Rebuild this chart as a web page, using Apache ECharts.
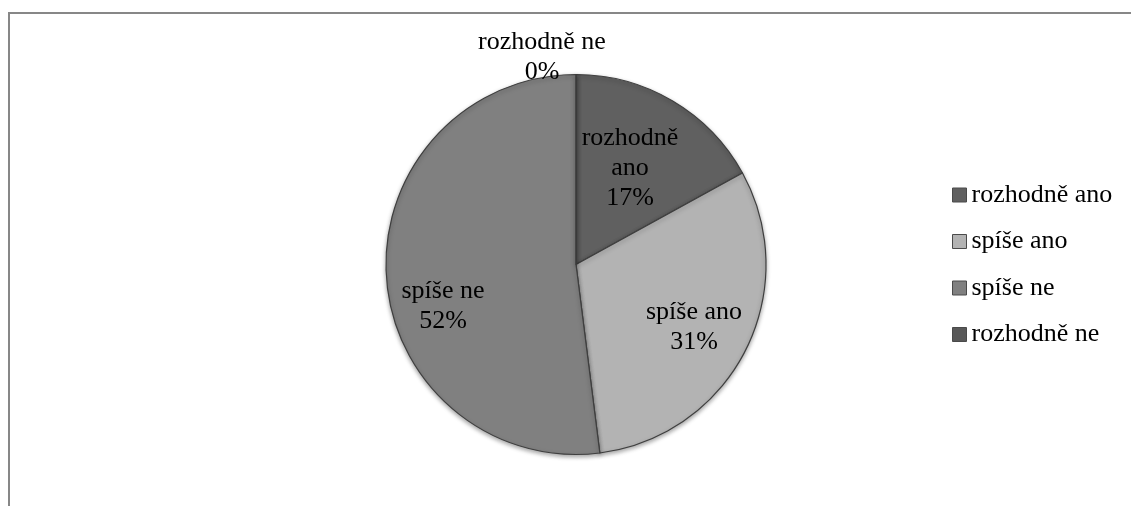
<!DOCTYPE html>
<html>
<head>
<meta charset="utf-8">
<script src="https://cdn.jsdelivr.net/npm/echarts@6/dist/echarts.min.js"></script>
<style>
  html, body { margin: 0; padding: 0; background: #fff; }
  #chart { width: 1131px; height: 506px; }
</style>
</head>
<body>
<div id="chart"></div>
<script>
// Answer categories and their shares (percent)
const categories = ['rozhodně ano', 'spíše ano', 'spíše ne', 'rozhodně ne'];
const shares = [17, 31, 52, 0];
const colors = ['#606060', '#b3b3b3', '#808080', '#585858'];

// Where each slice label sits (label centres, px)
const labelSpots = [
  [630, 168],
  [694, 327],
  [443, 306],
  [542, 57]
];

const font = '"Liberation Serif", "Times New Roman", serif';

const chart = echarts.init(document.getElementById('chart'), null, { renderer: 'canvas' });

chart.setOption({
  animation: false,
  backgroundColor: '#ffffff',
  color: colors,
  graphic: [
    {
      type: 'polyline',
      silent: true,
      shape: { points: [[9, 520], [9, 13], [1140, 13]] },
      style: { stroke: '#878787', lineWidth: 2, fill: null }
    }
  ],
  legend: {
    orient: 'vertical',
    left: 952,
    top: 182,
    padding: 0,
    itemWidth: 14,
    itemHeight: 14,
    itemGap: 20.5,
    icon: 'rect',
    itemStyle: { borderColor: '#4a4a4a', borderWidth: 1 },
    textStyle: { fontFamily: font, fontSize: 26, color: '#000', lineHeight: 26 },
    data: categories
  },
  series: [
    {
      type: 'pie',
      center: [576, 264.5],
      radius: 190,
      startAngle: 90,
      clockwise: true,
      avoidLabelOverlap: false,
      minShowLabelAngle: 0,
      itemStyle: {
        borderColor: '#3f3f3f',
        borderWidth: 1.2,
        shadowColor: 'rgba(0,0,0,0.35)',
        shadowBlur: 4,
        shadowOffsetY: 2
      },
      label: {
        show: true,
        position: 'inside',
        fontFamily: font,
        fontSize: 26,
        lineHeight: 30,
        color: '#000',
        align: 'center',
        formatter: function (p) {
          const name = p.dataIndex === 0 ? 'rozhodně\nano' : p.name;
          return name + '\n' + Math.round(p.percent) + '%';
        }
      },
      labelLine: { show: false },
      labelLayout: function (p) {
        const s = labelSpots[p.dataIndex];
        return { x: s[0], y: s[1], align: 'center', verticalAlign: 'middle' };
      },
      emphasis: { disabled: true },
      data: categories.map(function (c, i) { return { name: c, value: shares[i] }; })
    }
  ]
});
</script>
</body>
</html>
